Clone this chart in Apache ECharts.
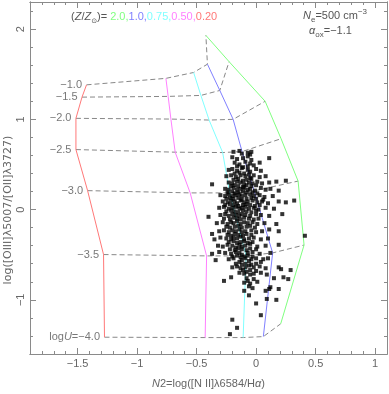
<!DOCTYPE html>
<html>
<head>
<meta charset="utf-8">
<script src="https://cdn.jsdelivr.net/npm/echarts@6/dist/echarts.min.js"></script>
<style>
html, body { margin: 0; padding: 0; background: #fff; }
#chart { width: 389px; height: 394px; }
</style>
</head>
<body>
<div id="chart"></div>
<script>
// ionisation parameter of each grid node (same order in every track)
var logU = [-1.0, -1.5, -2.0, -2.5, -3.0, -3.5, -4.0];
var logULabels = ['−1.0', '−1.5', '−2.0', '−2.5', '−3.0', '−3.5', '{n|log}{i|U}{n|=−4.0}'];

// model tracks, one per metallicity (Z/Zsun)
var z20X  = [-0.422, -0.227, 0.076, 0.210, 0.353, 0.403, 0.207];
var z20Y  = [1.930, 1.639, 1.200, 0.785, 0.316, -0.393, -1.265];
var z10X  = [-0.409, -0.305, -0.193, -0.118, -0.017, 0.139, 0.061];
var z10Y  = [1.611, 1.320, 1.000, 0.643, 0.207, -0.480, -1.407];
var z075X = [-0.525, -0.464, -0.395, -0.281, -0.222, -0.084, -0.109];
var z075Y = [1.519, 1.265, 0.992, 0.632, 0.185, -0.513, -1.418];
var z050X = [-0.758, -0.739, -0.716, -0.680, -0.554, -0.416, -0.428];
var z050Y = [1.454, 1.254, 1.003, 0.636, 0.185, -0.513, -1.418];
var z020X = [-1.425, -1.463, -1.514, -1.514, -1.416, -1.282, -1.274];
var z020Y = [1.382, 1.246, 1.011, 0.665, 0.210, -0.498, -1.414];

var xMajor = [-1.5, -1, -0.5, 0, 0.5, 1];
var yMajor = [-1, 0, 1, 2];

// observed galaxies [N2, O32]
var galaxies = [
  [-0.19,0.64],[-0.14,0.65],[-0.07,0.63],[-0.04,0.64],[-0.05,0.61],[-0.12,0.62],
  [-0.20,0.58],[-0.16,0.56],[-0.11,0.57],[-0.07,0.59],[-0.04,0.55],[0.11,0.57],
  [-0.18,0.52],[-0.14,0.50],[-0.09,0.53],[-0.05,0.51],[-0.02,0.49],[0.03,0.52],
  [-0.16,0.48],[-0.11,0.47],[-0.07,0.48],
  [-0.23,0.44],[-0.20,0.45],[-0.16,0.43],[-0.12,0.46],[-0.07,0.44],[-0.05,0.42],[0.00,0.45],[0.04,0.43],
  [-0.18,0.40],[-0.14,0.41],[-0.10,0.40],[-0.06,0.39],
  [-0.25,0.37],[-0.21,0.38],[-0.17,0.36],[-0.13,0.38],[-0.09,0.37],[-0.05,0.35],[-0.02,0.38],[0.03,0.36],[0.08,0.37],
  [-0.19,0.33],[-0.15,0.34],[-0.11,0.32],[-0.08,0.33],[-0.04,0.34],
  [-0.37,0.28],[-0.23,0.30],[-0.20,0.29],[-0.16,0.31],[-0.13,0.30],[-0.10,0.28],[-0.06,0.30],[-0.03,0.29],[0.01,0.31],[0.05,0.29],[0.11,0.30],[0.17,0.31],[0.25,0.32],
  [-0.21,0.26],[-0.18,0.27],[-0.15,0.26],[-0.11,0.25],[-0.08,0.27],[-0.04,0.26],[0.00,0.27],
  [-0.26,0.23],[-0.23,0.22],[-0.19,0.24],[-0.16,0.22],[-0.13,0.23],[-0.10,0.24],[-0.07,0.22],[-0.05,0.23],[-0.01,0.21],[0.04,0.24],[0.08,0.22],[0.12,0.23],[0.19,0.21],
  [-0.24,0.19],[-0.20,0.20],[-0.18,0.18],[-0.15,0.19],[-0.11,0.20],[-0.08,0.19],[-0.03,0.19],[0.01,0.18],
  [-0.30,0.16],[-0.26,0.15],[-0.23,0.17],[-0.20,0.15],[-0.17,0.16],[-0.14,0.17],[-0.12,0.15],[-0.09,0.16],[-0.05,0.17],[-0.02,0.15],[0.03,0.16],[0.07,0.14],[0.14,0.15],
  [-0.25,0.12],[-0.22,0.13],[-0.19,0.12],[-0.15,0.13],[-0.12,0.11],[-0.08,0.12],[-0.04,0.13],[0.00,0.12],[0.06,0.11],
  [-0.28,0.09],[-0.24,0.08],[-0.21,0.10],[-0.18,0.09],[-0.16,0.07],[-0.13,0.10],[-0.10,0.08],[-0.07,0.09],[-0.03,0.10],[0.01,0.08],[0.05,0.09],[0.10,0.07],[0.19,0.09],[0.25,0.08],[0.32,0.10],
  [-0.26,0.05],[-0.22,0.06],[-0.19,0.05],[-0.15,0.04],[-0.11,0.05],[-0.08,0.06],[-0.05,0.05],[-0.01,0.04],[0.03,0.05],
  [-0.31,0.02],[-0.27,0.03],[-0.23,0.01],[-0.20,0.02],[-0.17,0.03],[-0.14,0.01],[-0.12,0.02],[-0.09,0.03],[-0.06,0.01],[-0.02,0.02],[0.02,0.00],[0.08,0.02],[0.15,0.01],
  [-0.25,-0.02],[-0.21,-0.01],[-0.18,-0.02],[-0.15,-0.03],[-0.11,-0.01],[-0.08,-0.02],[-0.04,-0.03],[0.00,-0.01],
  [-0.40,-0.08],[-0.30,-0.06],[-0.26,-0.05],[-0.23,-0.07],[-0.20,-0.05],[-0.17,-0.06],[-0.14,-0.07],[-0.12,-0.05],[-0.09,-0.06],[-0.05,-0.07],[0.00,-0.05],[0.04,-0.06],[0.11,-0.07],[0.22,-0.05],
  [-0.27,-0.10],[-0.22,-0.11],[-0.19,-0.09],[-0.16,-0.10],[-0.13,-0.11],[-0.10,-0.09],[-0.06,-0.10],[-0.02,-0.11],[0.02,-0.10],
  [-0.33,-0.15],[-0.28,-0.14],[-0.24,-0.16],[-0.21,-0.14],[-0.19,-0.15],[-0.16,-0.13],[-0.13,-0.16],[-0.10,-0.14],[-0.07,-0.15],[-0.03,-0.14],[0.01,-0.16],[0.07,-0.15],[0.17,-0.16],
  [-0.25,-0.19],[-0.22,-0.20],[-0.18,-0.19],[-0.15,-0.18],[-0.12,-0.20],[-0.08,-0.19],[-0.05,-0.18],[-0.01,-0.20],
  [-0.37,-0.27],[-0.31,-0.24],[-0.27,-0.23],[-0.23,-0.25],[-0.20,-0.23],[-0.17,-0.24],[-0.14,-0.22],[-0.12,-0.25],[-0.09,-0.24],[-0.04,-0.23],[0.00,-0.25],[0.05,-0.24],[0.11,-0.22],[0.19,-0.24],
  [-0.24,-0.28],[-0.21,-0.29],[-0.18,-0.27],[-0.15,-0.28],[-0.11,-0.29],[-0.08,-0.27],[-0.04,-0.28],
  [-0.35,-0.33],[-0.30,-0.31],[-0.25,-0.32],[-0.21,-0.33],[-0.19,-0.31],[-0.16,-0.32],[-0.13,-0.30],[-0.10,-0.33],[-0.06,-0.32],[-0.02,-0.31],[0.04,-0.33],[0.10,-0.32],[0.41,-0.29],
  [-0.23,-0.36],[-0.19,-0.35],[-0.16,-0.37],[-0.13,-0.36],[-0.10,-0.35],[-0.07,-0.37],[-0.03,-0.36],
  [-0.32,-0.40],[-0.28,-0.41],[-0.24,-0.39],[-0.20,-0.40],[-0.17,-0.42],[-0.14,-0.39],[-0.12,-0.41],[-0.09,-0.40],[-0.05,-0.38],[0.01,-0.41],[0.08,-0.40],[0.19,-0.39],
  [-0.22,-0.44],[-0.18,-0.45],[-0.15,-0.43],[-0.12,-0.44],[-0.08,-0.45],[-0.05,-0.43],[0.00,-0.44],
  [-0.37,-0.49],[-0.31,-0.47],[-0.26,-0.48],[-0.21,-0.49],[-0.17,-0.47],[-0.14,-0.48],[-0.12,-0.50],[-0.07,-0.48],[-0.03,-0.47],[0.03,-0.49],[0.12,-0.48],
  [-0.20,-0.52],[-0.16,-0.51],[-0.13,-0.53],[-0.10,-0.52],[-0.07,-0.51],[-0.03,-0.52],
  [-0.34,-0.56],[-0.23,-0.55],[-0.19,-0.54],[-0.14,-0.58],[-0.12,-0.56],[-0.09,-0.54],[-0.06,-0.57],[-0.04,-0.55],[0.00,-0.54],[0.04,-0.58],[0.06,-0.55],[0.10,-0.54],
  [-0.17,-0.60],[-0.12,-0.61],[-0.09,-0.60],[-0.04,-0.61],[0.00,-0.60],
  [-0.20,-0.64],[-0.16,-0.63],[-0.13,-0.65],[-0.09,-0.64],[-0.06,-0.62],[-0.02,-0.64],[0.03,-0.63],[0.08,-0.65],[0.19,-0.64],[0.21,-0.66],[0.29,-0.67],
  [-0.11,-0.67],[-0.08,-0.69],[-0.05,-0.67],[0.00,-0.68],
  [-0.14,-0.70],[-0.10,-0.71],[-0.05,-0.72],[-0.02,-0.71],[0.04,-0.70],[0.09,-0.72],
  [-0.21,-0.75],[-0.27,-0.79],[-0.10,-0.81],[-0.07,-0.79],[-0.05,-0.82],[0.01,-0.80],[-0.08,-0.76],[-0.02,-0.77],[0.23,-0.75],[0.27,-0.77],[0.15,-0.76],
  [-0.06,-0.85],[0.12,-0.86],[0.19,-0.88],[0.11,-0.88],[-0.10,-0.90],[0.08,-0.90],[-0.03,-0.87],
  [-0.06,-0.95],[0.09,-0.99],[0.17,-1.00],[0.00,-1.04],[0.04,-1.17],[-0.20,-1.22],[-0.16,-1.31],[-0.22,-1.38]
];

var tracks = [
  { name: '2.0',  color: '#80ff80', xs: z20X,  ys: z20Y },
  { name: '1.0',  color: '#8080ff', xs: z10X,  ys: z10Y },
  { name: '0.75', color: '#80ffff', xs: z075X, ys: z075Y },
  { name: '0.50', color: '#ff80ff', xs: z050X, ys: z050Y },
  { name: '0.20', color: '#ff7878', xs: z020X, ys: z020Y }
];

var FONT = 'Liberation Sans';
var AXC = '#8a8a8a';
var TXT = '#666';

var xMinor = [], yMinor = [];
for (var k = -19; k <= 11; k++) xMinor.push(k / 10);
for (var k = -8; k <= 11; k++) yMinor.push(k / 5);

function minus(v) { return String(v).replace('-', '−'); }

// frame axis: line + inward ticks at given values
function frameAxis(pos, min, max, ticks, len, label) {
  return {
    type: 'value', position: pos, min: min, max: max,
    axisLine: { show: true, onZero: false, lineStyle: { color: AXC, width: 1 } },
    axisTick: { show: true, inside: true, length: len, customValues: ticks, lineStyle: { color: AXC } },
    axisLabel: label || { show: false },
    splitLine: { show: false }
  };
}

var series = [];
// iso-logU dashed lines, built from the tracks (low Z to high Z)
logU.forEach(function (u, i) {
  var pts = [];
  for (var t = tracks.length - 1; t >= 0; t--) pts.push([tracks[t].xs[i], tracks[t].ys[i]]);
  series.push({
    type: 'line', data: pts, showSymbol: false, silent: true,
    lineStyle: { color: '#888', width: 1, type: [5, 3] }, z: 2
  });
});
// metallicity tracks
tracks.forEach(function (tr) {
  series.push({
    type: 'line', data: tr.xs.map(function (x, i) { return [x, tr.ys[i]]; }),
    showSymbol: false, silent: true, lineStyle: { color: tr.color, width: 1 }, z: 3
  });
});
// logU labels at the low-metallicity end
series.push({
  type: 'scatter', symbolSize: 1, itemStyle: { color: 'rgba(0,0,0,0)' }, silent: true,
  data: z020X.map(function (x, i) { return { value: [x, z020Y[i]], name: logULabels[i] }; }),
  label: {
    show: true, position: 'left', distance: 4, color: '#555', fontFamily: FONT, fontSize: 11,
    formatter: function (p) { return p.name; },
    rich: {
      n: { fontFamily: FONT, fontSize: 11, color: '#555' },
      i: { fontFamily: FONT, fontSize: 11, color: '#555', fontStyle: 'italic' }
    }
  }
});
// observed points
series.push({
  type: 'scatter', data: galaxies, symbol: 'rect', symbolSize: 4,
  itemStyle: { color: '#000' }, z: 5, silent: true
});

var option = {
  backgroundColor: '#fff',
  animation: false,
  grid: { left: 30, right: 2, top: 2, bottom: 36, containLabel: false },
  xAxis: [
    Object.assign(frameAxis('bottom', -1.9, 1.1, xMajor, 6, {
      show: true, customValues: xMajor, margin: 4, color: TXT, fontFamily: FONT, fontSize: 11,
      formatter: minus
    }), {
      name: '{i|N}{n|2=log([N II]λ6584/H}{i|α}{n|)}', nameLocation: 'middle', nameGap: 24,
      nameTextStyle: {
        rich: {
          n: { fontFamily: FONT, fontSize: 11, color: TXT },
          i: { fontFamily: FONT, fontSize: 11, color: TXT, fontStyle: 'italic' }
        }
      }
    }),
    frameAxis('bottom', -1.9, 1.1, xMinor, 3),
    frameAxis('top', -1.9, 1.1, xMajor, 6),
    frameAxis('top', -1.9, 1.1, xMinor, 3)
  ],
  yAxis: [
    frameAxis('left', -1.6, 2.3, yMajor, 6, {
      show: true, customValues: yMajor, rotate: 90, margin: 4, color: TXT, fontFamily: FONT, fontSize: 11,
      formatter: minus
    }),
    frameAxis('left', -1.6, 2.3, yMinor, 3),
    frameAxis('right', -1.6, 2.3, yMajor, 6),
    frameAxis('right', -1.6, 2.3, yMinor, 3)
  ],
  graphic: [
    {
      type: 'text', x: 71, y: 17, silent: true,
      style: {
        text: '{p|(}{i|Z}{p|/}{i|Z}{s|⊙}{p|)= }{g|2.0,}{b|1.0,}{c|0.75,}{m|0.50,}{r|0.20}',
        verticalAlign: 'middle',
        rich: {
          p: { fontFamily: FONT, fontSize: 11, fill: '#555', lineHeight: 16 },
          i: { fontFamily: FONT, fontSize: 11, fill: '#555', fontStyle: 'italic', lineHeight: 16 },
          s: { fontFamily: 'DejaVu Sans', fontSize: 7, fill: '#555', verticalAlign: 'bottom', lineHeight: 8 },
          g: { fontFamily: FONT, fontSize: 11, fill: tracks[0].color, lineHeight: 16 },
          b: { fontFamily: FONT, fontSize: 11, fill: tracks[1].color, lineHeight: 16 },
          c: { fontFamily: FONT, fontSize: 11, fill: tracks[2].color, lineHeight: 16 },
          m: { fontFamily: FONT, fontSize: 11, fill: tracks[3].color, lineHeight: 16 },
          r: { fontFamily: FONT, fontSize: 11, fill: tracks[4].color, lineHeight: 16 }
        }
      }
    },
    {
      type: 'text', x: 303, y: 16, silent: true,
      style: {
        text: '{i|N}{s|e}{p|=500 cm}{u|−3}',
        verticalAlign: 'middle',
        rich: {
          p: { fontFamily: FONT, fontSize: 11, fill: '#555', lineHeight: 16 },
          i: { fontFamily: FONT, fontSize: 11, fill: '#555', fontStyle: 'italic', lineHeight: 16 },
          s: { fontFamily: FONT, fontSize: 8, fill: '#555', verticalAlign: 'bottom', lineHeight: 9 },
          u: { fontFamily: FONT, fontSize: 8, fill: '#555', verticalAlign: 'top', lineHeight: 9 }
        }
      }
    },
    {
      type: 'text', x: 309, y: 31, silent: true,
      style: {
        text: '{i|α}{s|ox}{p|=−1.1}',
        verticalAlign: 'middle',
        rich: {
          p: { fontFamily: FONT, fontSize: 11, fill: '#555', lineHeight: 16 },
          i: { fontFamily: FONT, fontSize: 11, fill: '#555', fontStyle: 'italic', lineHeight: 16 },
          s: { fontFamily: FONT, fontSize: 8, fill: '#555', verticalAlign: 'bottom', lineHeight: 9 }
        }
      }
    },
    {
      type: 'text', x: 8, y: 210, rotation: Math.PI / 2, silent: true,
      style: {
        text: 'log([OIII]λ5007/[OII]λ3727)', align: 'center', verticalAlign: 'middle',
        fill: TXT, font: '11px "DejaVu Sans"'
      }
    }
  ],
  series: series
};

var chart = echarts.init(document.getElementById('chart'));
chart.setOption(option);
</script>
</body>
</html>
